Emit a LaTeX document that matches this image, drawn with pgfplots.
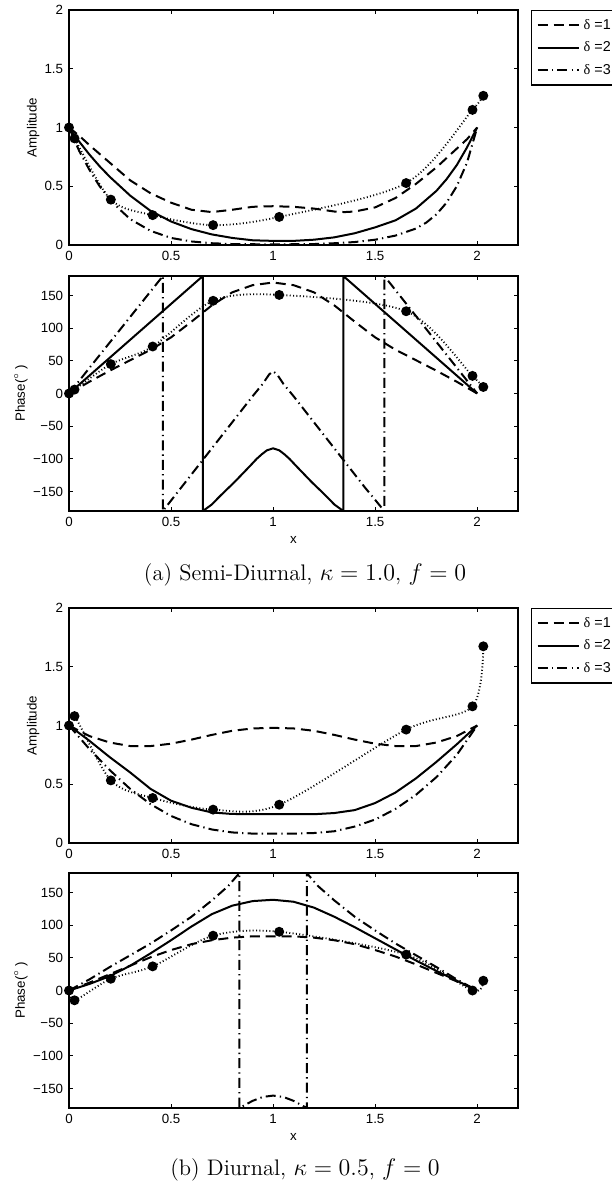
\documentclass[border=0pt]{standalone}
\usepackage{fontspec}
\usepackage{pgfplots}
\pgfplotsset{compat=1.18}
\newfontfamily\hel{Liberation Sans}
\newfontfamily\lser{Liberation Serif}

\pgfplotsset{
  myax/.style={
    width=269.4pt, height=141pt, scale only axis,
    xmin=0, xmax=2.2,
    xtick={0,0.5,1,1.5,2}, xticklabels={0,0.5,1,1.5,2},
    tick align=inside, major tick length=2.4pt,
    tick style={line width=0.5pt, black},
    axis line style={line width=0.8pt},
    ticklabel style={font=\hel\fontsize{8}{9}\selectfont},
    label style={font=\hel\fontsize{8}{9}\selectfont},
    anchor=north west,
  },
  ampax/.style={myax,
    ymin=0, ymax=2, ytick={0,0.5,1,1.5,2}, yticklabels={0,0.5,1,1.5,2},
    ylabel={Amplitude},
    ylabel style={at={(axis description cs:-0.08,0.5)}, anchor=center},
    legend style={at={(axis description cs:1.029,1)}, anchor=north west,
      draw=black, line width=0.8pt, fill=white,
      font=\hel\fontsize{8.6}{9.5}\selectfont, row sep=2pt,
      inner xsep=3pt, inner ysep=3pt},
    legend cell align=left,
    legend image code/.code={\draw[##1] (0pt,0pt) -- (25pt,0pt);},
  },
  phax/.style={myax,
    ymin=-180, ymax=180, ytick={-150,-100,-50,0,50,100,150},
    yticklabels={−150,−100,−50,0,50,100,150},
    ylabel={Phase(\raisebox{0.9ex}{\fontsize{5}{5}\selectfont$\circ$}\;)},
    ylabel style={at={(axis description cs:-0.107,0.5)}, anchor=center},
    xlabel={x},
    xlabel style={at={(axis description cs:0.5,-0.123)}, anchor=center},
  },
  d1/.style={line width=1.2pt, dash pattern=on 6pt off 3.5pt},
  d2/.style={line width=1.2pt, solid},
  d3/.style={line width=1.2pt, dash pattern=on 6pt off 2.5pt on 0.8pt off 2.5pt},
  obs/.style={line width=1.1pt, dash pattern=on 0.6pt off 1.4pt, smooth,
    mark=*, mark size=2.4pt, mark options={solid, fill=black}},
}

\begin{document}
\begin{tikzpicture}
\useasboundingbox (0pt,0pt) rectangle (366.6pt,-711pt);

% ---------------- (a) amplitude ----------------
\begin{axis}[ampax, at={(41.4pt,-6pt)}]
\addplot[d1] coordinates {(0,1.0) (0.05,0.93) (0.1,0.85) (0.2,0.7) (0.3,0.55) (0.4,0.44) (0.5,0.36) (0.6,0.3) (0.7,0.28) (0.8,0.3) (0.9,0.325) (1.0,0.33) (1.1,0.325) (1.2,0.31) (1.3,0.285) (1.35,0.28) (1.4,0.285) (1.5,0.32) (1.6,0.4) (1.7,0.52) (1.8,0.66) (1.9,0.82) (1.95,0.9) (2.0,1.0)};
\addlegendentry{{\lser δ} =1}
\addplot[d2] coordinates {(0,1.0) (0.05,0.88) (0.1,0.77) (0.15,0.67) (0.2,0.58) (0.3,0.42) (0.4,0.29) (0.5,0.2) (0.6,0.135) (0.7,0.09) (0.8,0.06) (0.9,0.04) (1.0,0.035) (1.1,0.035) (1.2,0.045) (1.3,0.065) (1.4,0.1) (1.5,0.15) (1.6,0.21) (1.7,0.31) (1.8,0.46) (1.85,0.56) (1.9,0.68) (1.95,0.83) (2.0,1.0)};
\addlegendentry{{\lser δ} =2}
\addplot[d3] coordinates {(0,1.0) (0.05,0.8) (0.1,0.64) (0.15,0.5) (0.2,0.39) (0.25,0.3) (0.3,0.22) (0.4,0.12) (0.5,0.06) (0.6,0.03) (0.7,0.015) (0.8,0.008) (1.0,0.005) (1.2,0.008) (1.3,0.015) (1.4,0.025) (1.5,0.045) (1.6,0.08) (1.7,0.14) (1.75,0.19) (1.8,0.26) (1.85,0.36) (1.9,0.5) (1.95,0.7) (2.0,1.0)};
\addlegendentry{{\lser δ} =3}
\addplot[obs, forget plot] coordinates {(0,1.0) (0.027,0.907) (0.205,0.386) (0.41,0.254) (0.706,0.169) (1.03,0.239) (1.652,0.527) (1.977,1.15) (2.03,1.27)};
\end{axis}

% ---------------- (a) phase ----------------
\begin{axis}[phax, at={(41.4pt,-165.6pt)}]
\addplot[d1] coordinates {(0,0) (0.1,18) (0.2,35) (0.3,51) (0.4,67) (0.5,86) (0.6,110) (0.7,135) (0.8,155) (0.9,166) (1.0,170) (1.1,166) (1.2,155) (1.3,135) (1.4,110) (1.5,86) (1.6,67) (1.7,51) (1.8,35) (1.9,18) (2.0,0)};
\addplot[d2] coordinates {(0,0) (0.656,180) (0.656,-180) (0.7,-170) (0.734,-159) (0.77,-148) (0.81,-136) (0.85,-123) (0.887,-111) (0.92,-100) (0.945,-93) (0.97,-87) (1.0,-84) (1.03,-87) (1.055,-93) (1.08,-100) (1.113,-111) (1.15,-123) (1.19,-136) (1.23,-148) (1.266,-159) (1.3,-170) (1.344,-180) (1.344,180) (2.0,0)};
\addplot[d3] coordinates {(0,0) (0.46,180) (0.46,-180) (0.55,-144) (0.65,-104) (0.75,-64) (0.85,-24) (0.9,-4) (0.95,15) (0.98,29) (1.0,34) (1.02,29) (1.05,15) (1.1,-4) (1.15,-24) (1.25,-64) (1.35,-104) (1.45,-144) (1.545,-180) (1.545,180) (2.0,0)};
\addplot[obs] coordinates {(0,0) (0.027,6) (0.205,45) (0.41,72) (0.706,142) (1.03,151) (1.652,126) (1.977,27) (2.03,10)};
\end{axis}
\node[font=\fontsize{13.5}{16}\selectfont] at (183pt,-345pt) {(a) Semi-Diurnal, $\kappa=1.0$, $f=0$};

% ---------------- (b) amplitude ----------------
\begin{axis}[ampax, at={(41.4pt,-364.8pt)}]
\addplot[d1] coordinates {(0,1.0) (0.1,0.91) (0.2,0.855) (0.3,0.825) (0.4,0.825) (0.5,0.845) (0.6,0.88) (0.7,0.92) (0.8,0.955) (0.9,0.975) (1.0,0.98) (1.1,0.975) (1.2,0.955) (1.3,0.92) (1.4,0.88) (1.5,0.845) (1.6,0.825) (1.7,0.825) (1.8,0.855) (1.9,0.91) (2.0,1.0)};
\addlegendentry{{\lser δ} =1}
\addplot[d2] coordinates {(0,1.0) (0.1,0.87) (0.2,0.73) (0.3,0.6) (0.4,0.46) (0.5,0.36) (0.6,0.3) (0.7,0.26) (0.8,0.247) (1.0,0.245) (1.2,0.245) (1.3,0.255) (1.4,0.28) (1.5,0.34) (1.6,0.43) (1.7,0.55) (1.8,0.69) (1.9,0.84) (2.0,1.0)};
\addlegendentry{{\lser δ} =2}
\addplot[d3] coordinates {(0,1.0) (0.1,0.8) (0.2,0.62) (0.3,0.46) (0.4,0.33) (0.5,0.23) (0.6,0.16) (0.7,0.115) (0.8,0.09) (0.9,0.08) (1.0,0.08) (1.1,0.08) (1.2,0.085) (1.3,0.1) (1.4,0.14) (1.5,0.2) (1.6,0.29) (1.7,0.41) (1.8,0.56) (1.9,0.75) (2.0,1.0)};
\addlegendentry{{\lser δ} =3}
\addplot[obs, forget plot] coordinates {(0,1.0) (0.027,1.08) (0.205,0.533) (0.41,0.383) (0.706,0.284) (1.03,0.326) (1.652,0.965) (1.977,1.163) (2.03,1.674)};
\end{axis}

% ---------------- (b) phase ----------------
\begin{axis}[phax, at={(41.4pt,-523.8pt)}]
\addplot[d1] coordinates {(0,0) (0.1,12) (0.2,25) (0.3,38) (0.4,51) (0.5,62) (0.6,71) (0.7,77) (0.8,81) (0.9,83) (1.0,83) (1.1,83) (1.2,81) (1.3,77) (1.4,71) (1.5,62) (1.6,52) (1.7,40) (1.8,27) (1.9,14) (2.0,0)};
\addplot[d2] coordinates {(0,0) (0.1,10) (0.2,22) (0.3,38) (0.4,57) (0.5,77) (0.6,98) (0.7,117) (0.8,130) (0.9,137) (1.0,139) (1.1,136) (1.2,127) (1.3,113) (1.4,97) (1.5,80) (1.6,63) (1.7,46) (1.8,30) (1.9,15) (2.0,0)};
\addplot[d3] coordinates {(0,0) (0.1,17) (0.2,36) (0.3,54) (0.4,72) (0.5,92) (0.6,113) (0.7,138) (0.78,160) (0.835,180) (0.835,-180) (0.87,-174) (0.9,-169) (0.95,-163) (1.0,-161) (1.05,-163) (1.1,-169) (1.13,-174) (1.165,-180) (1.165,180) (1.22,160) (1.3,138) (1.4,113) (1.5,92) (1.6,72) (1.7,54) (1.8,36) (1.9,17) (2.0,0)};
\addplot[obs] coordinates {(0,0) (0.027,-15) (0.205,18) (0.41,37) (0.706,84) (1.03,90) (1.652,55) (1.977,0) (2.03,15)};
\end{axis}
\node[font=\fontsize{13.5}{16}\selectfont] at (183pt,-702pt) {(b) Diurnal, $\kappa=0.5$, $f=0$};
\end{tikzpicture}
\end{document}
